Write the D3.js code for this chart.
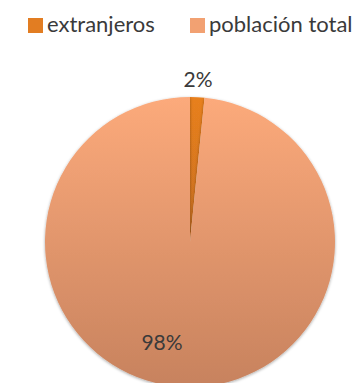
<!DOCTYPE html>
<html><head><meta charset="utf-8">
<script src="https://cdn.jsdelivr.net/npm/d3@7/dist/d3.min.js"></script>
<style>body{margin:0;background:#fff}svg{display:block}</style>
</head><body>
<script>
const categories = ["extranjeros", "población total"];
const values = [1.6, 98.4];
const labels = ["2%", "98%"];
const colors = ["#E27D22", "#F2A172"];

const W = 361, H = 383;
const svg = d3.select("body").append("svg").attr("width", W).attr("height", H);
const defs = svg.append("defs");
const g1 = defs.append("linearGradient").attr("id", "grad").attr("x1", 0).attr("y1", 0).attr("x2", 0).attr("y2", 1);
g1.append("stop").attr("offset", "0%").attr("stop-color", "#FCAA7B");
g1.append("stop").attr("offset", "100%").attr("stop-color", "#C7825E");
const g0 = defs.append("linearGradient").attr("id", "grad0").attr("x1", 0).attr("y1", 0).attr("x2", 0).attr("y2", 1);
g0.append("stop").attr("offset", "0%").attr("stop-color", "#E8801F");
g0.append("stop").attr("offset", "100%").attr("stop-color", "#C96F20");
const f = defs.append("filter").attr("id", "sh").attr("x", "-10%").attr("y", "-10%").attr("width", "120%").attr("height", "120%");
f.append("feDropShadow").attr("dx", 0).attr("dy", 1).attr("stdDeviation", 1.5).attr("flood-color", "#000").attr("flood-opacity", 0.35);

const cx = 190, cy = 242, r = 145;
const pie = d3.pie().sort(null).value(d => d)(values);
const arc = d3.arc().innerRadius(0).outerRadius(r);
const fills = ["url(#grad0)", "url(#grad)"];
const gp = svg.append("g").attr("transform", `translate(${cx},${cy})`);
gp.selectAll("path").data(pie).join("path")
  .attr("d", arc).attr("fill", (d, i) => fills[i]).attr("filter", "url(#sh)");

// labels
const font = "Lato, 'Open Sans', sans-serif";
svg.append("text").attr("x", 198).attr("y", 87).attr("text-anchor", "middle")
  .attr("font-family", font).attr("font-size", 21).attr("fill", "#3a3a3a").text(labels[0]);
svg.append("text").attr("x", 162).attr("y", 350).attr("text-anchor", "middle")
  .attr("font-family", font).attr("font-size", 21).attr("fill", "#3a3a3a").text(labels[1]);

// legend
const legX = [28, 190];
const leg = svg.append("g");
categories.forEach((c, i) => {
  leg.append("rect").attr("x", legX[i]).attr("y", 18).attr("width", 15).attr("height", 15).attr("fill", colors[i]);
  leg.append("text").attr("x", legX[i] + 19).attr("y", 32)
    .attr("font-family", font).attr("font-size", 22).attr("fill", "#3a3a3a").text(c);
});
</script>
</body></html>
